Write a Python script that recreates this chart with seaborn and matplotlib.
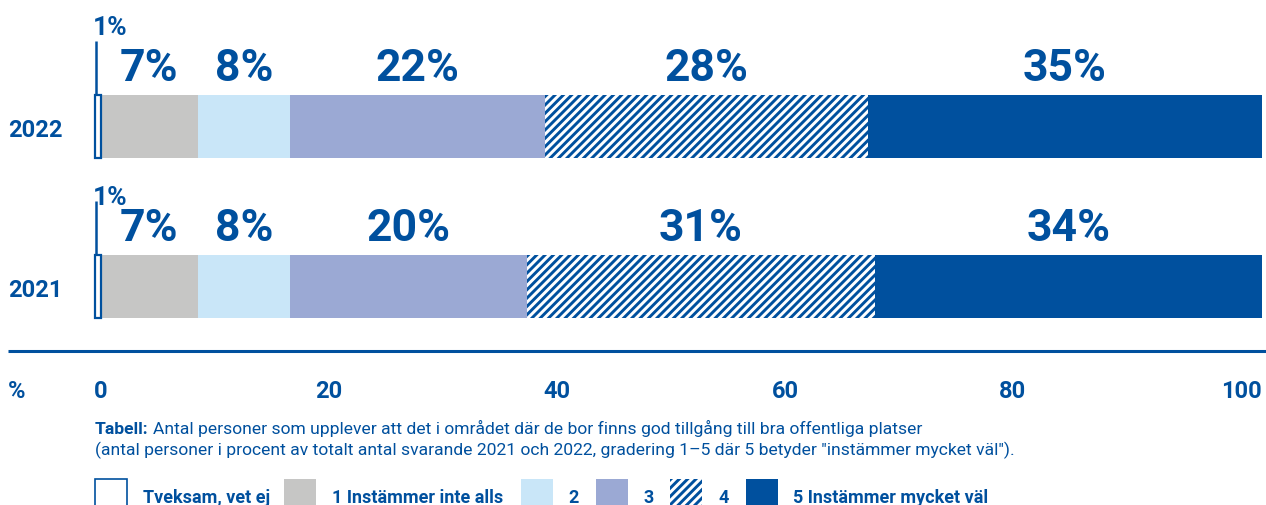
import matplotlib
matplotlib.use("Agg")
import matplotlib.pyplot as plt
from matplotlib.patches import Rectangle
import pandas as pd
import seaborn as sns

# Data
years = ["2022", "2021"]
categories = ["Tveksam, vet ej", "1 Instämmer inte alls", "2", "3", "4", "5 Instämmer mycket väl"]
share_2022 = [0.5, 8.3, 7.9, 21.9, 27.6, 33.8]   # bar widths as drawn
share_2021 = [0.5, 8.3, 7.9, 20.3, 29.8, 33.2]
label_2022 = [1, 7, 8, 22, 28, 35]               # printed percentages
label_2021 = [1, 7, 8, 20, 31, 34]
tick_vals = [0, 20, 40, 60, 80, 100]

BLUE = "#00509E"
colors = ["white", "#C6C6C5", "#C9E6F8", "#9BA9D4", "white", BLUE]
hatches = [None, None, None, None, "////", None]

W, H = 1266, 506
PX_PER_UNIT = 11.67
BAR_H = 63 / 160

sns.set_style("white")
plt.rcParams["font.family"] = ["Roboto", "DejaVu Sans"]
plt.rcParams["hatch.linewidth"] = 2.1
plt.rcParams["hatch.color"] = BLUE

rows = []
for year, shares, labels in ((years[0], share_2022, label_2022), (years[1], share_2021, label_2021)):
    left = 0
    for cat, s, lab in zip(categories, shares, labels):
        rows.append(dict(year=year, category=cat, share=s, label=lab, left=left, right=left + s))
        left += s
df = pd.DataFrame(rows)

fig = plt.figure(figsize=(W / 100, H / 100), dpi=100)
ax = fig.add_axes([0, 0, 1, 1])

# stacked bars: draw the cumulative totals from the back to the front
for i in reversed(range(len(categories))):
    sub = df[df["category"] == categories[i]]
    kw = dict(edgecolor=BLUE, linewidth=1.6 if i == 0 else 0)
    if hatches[i]:
        kw["hatch"] = hatches[i]
    sns.barplot(data=sub, x="right", y="year", order=years, orient="h",
                color=colors[i], saturation=1, width=BAR_H, errorbar=None,
                ax=ax, **kw)

ax.set_xlim(-95 / PX_PER_UNIT, 100 + 4 / PX_PER_UNIT)
ax.set_ylim((H - 127.5) / 160, -127.5 / 160)
ax.axis("off")

small_lift = [0.578, 0.516]
for _, r in df.iterrows():
    row = years.index(r["year"])
    if r["category"] == categories[0]:
        ax.text(r["left"] - 0.17, row - small_lift[row], f"{r['label']}%", ha="left",
                va="baseline", fontsize=19, weight="bold", color=BLUE)
        ax.plot([0.05, 0.05], [row - 0.534, row - BAR_H / 2], color=BLUE, lw=1.8,
                solid_capstyle="butt")
    else:
        ax.text((r["left"] + r["right"]) / 2, row - 0.29, f"{r['label']}%", ha="center",
                va="baseline", fontsize=32, weight="bold", color=BLUE)

for row, year in enumerate(years):
    ax.text(-95 / PX_PER_UNIT + 8 / PX_PER_UNIT, row + 0.059, year, ha="left",
            va="baseline", fontsize=17, weight="bold", color=BLUE)

# rule under the bars
ax.plot([-87 / PX_PER_UNIT, 100 + 4 / PX_PER_UNIT], [(352 - 127.5) / 160] * 2,
        color=BLUE, lw=2.2, solid_capstyle="butt")

# tick row
ax2 = fig.add_axes([101 / W, 1 - 372 / H, 1140 / W, 0.0001])
ax2.set_xlim(0, 100)
ax2.set_xticks(tick_vals)
ax2.set_xticklabels([str(v) for v in tick_vals], fontsize=17, weight="bold", color=BLUE)
ax2.tick_params(axis="x", length=0, pad=6)
ax2.set_yticks([])
for s in ax2.spines.values():
    s.set_visible(False)
ax2.patch.set_visible(False)
fig.text(17 / W, 1 - 380 / H, "%", ha="center", va="top", fontsize=17,
         weight="bold", color=BLUE)

# caption
t1 = fig.text(95 / W, 1 - 434 / H, "Tabell:", ha="left", va="baseline",
              fontsize=12.6, weight="bold", color=BLUE)
fig.canvas.draw()
bb = t1.get_window_extent()
fig.text((bb.x1 + 4) / W, 1 - 434 / H,
         "Antal personer som upplever att det i området där de bor finns god tillgång till bra offentliga platser",
         ha="left", va="baseline", fontsize=12.6, color=BLUE)
fig.text(95 / W, 1 - 455 / H,
         "(antal personer i procent av totalt antal svarande 2021 och 2022, gradering 1–5 där 5 betyder \"instämmer mycket väl\").",
         ha="left", va="baseline", fontsize=12.6, color=BLUE)

# legend
box_x = [95, 284, 521, 596, 670, 746]
text_x = [143, 332, 568, 643, 718, 793]
for i, cat in enumerate(categories):
    fig.add_artist(Rectangle((box_x[i] / W, 1 - 512 / H), 32 / W, 32 / H,
                             transform=fig.transFigure, facecolor=colors[i],
                             edgecolor=BLUE, lw=1.2 if i == 0 else 0,
                             hatch=hatches[i]))
    fig.text(text_x[i] / W, 1 - 503 / H, cat, ha="left", va="baseline",
             fontsize=13, weight="bold", color=BLUE)

fig.savefig("out.png", dpi=100)
